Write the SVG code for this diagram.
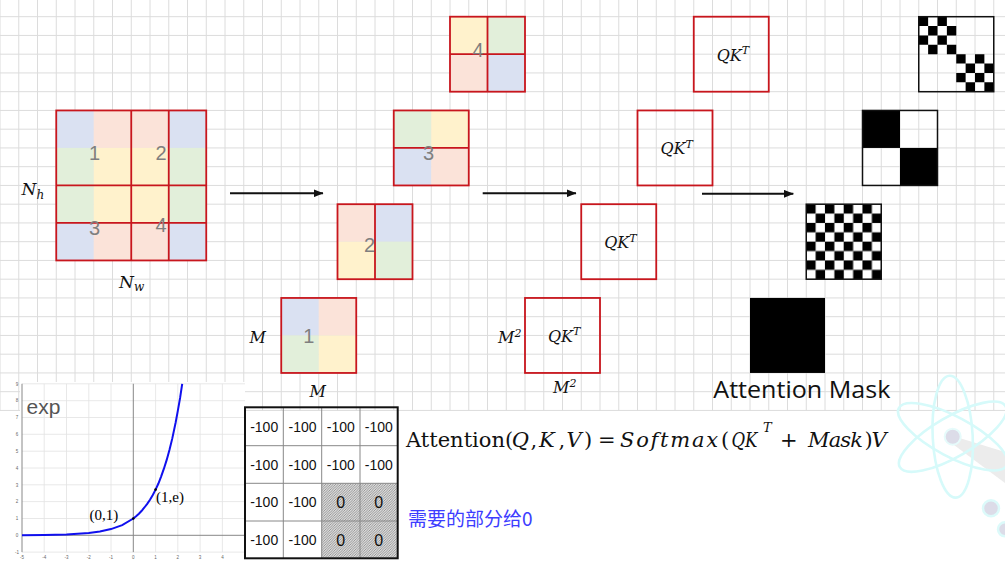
<svg xmlns="http://www.w3.org/2000/svg" width="1005" height="566" viewBox="0 0 1005 566">
<style>
.bg{stroke:#dcdcdc;stroke-width:1;fill:none}
.red{fill:none;stroke:#c8161d;stroke-width:1.8}
.num{font-family:"Liberation Sans",Arial,sans-serif;font-size:20px;fill:#7f7f7f;text-anchor:middle}
.math{font-family:"DejaVu Serif",serif;font-style:italic;fill:#111}
.up{font-family:"DejaVu Serif",serif;font-style:normal;fill:#111}
.mk{fill:none;stroke:#111;stroke-width:1.5}
.cB{fill:#dae1f2}.cP{fill:#fbe3d9}.cG{fill:#e2efda}.cY{fill:#fff2cc}
.tb{font-family:"Liberation Sans",Arial,sans-serif;font-size:14px;fill:#111;text-anchor:middle}
.tz{font-family:"Liberation Sans",Arial,sans-serif;font-size:16px;fill:#111;text-anchor:middle}
.tick{font-family:"Liberation Sans",Arial,sans-serif;font-size:4.5px;fill:#666;text-anchor:middle}
.arrow{stroke:#111;stroke-width:2;fill:none;marker-end:url(#arr)}
.atom{fill:none;stroke:#d6fafa;stroke-width:2.6}
</style>
<defs>
<marker id="arr" markerWidth="10" markerHeight="8" refX="9.5" refY="4" orient="auto" markerUnits="userSpaceOnUse"><path d="M0,0 L10,4 L0,8 z" fill="#111"/></marker>
<pattern id="chk" width="2" height="2" patternUnits="userSpaceOnUse"><rect x="0" y="0" width="1" height="1" fill="#000"/><rect x="1" y="1" width="1" height="1" fill="#000"/></pattern>
<pattern id="hatch" width="2.5" height="2.5" patternUnits="userSpaceOnUse"><rect width="2.5" height="2.5" fill="#dcdcdc"/><path d="M0,2.5 L2.5,0 M-1,1 L1,-1 M1.5,3.5 L3.5,1.5" stroke="#6a6a6a" stroke-width="0.6"/></pattern>
</defs>
<rect width="1005" height="566" fill="#fff"/>
<g id="background-grid">
<path class="bg" d="M0 0V411M18.75 0V411M37.5 0V411M56.25 0V411M75 0V411M93.75 0V411M112.5 0V411M131.25 0V411M150 0V411M168.75 0V411M187.5 0V411M206.25 0V411M225 0V411M243.75 0V411M262.5 0V411M281.25 0V411M300 0V411M318.75 0V411M337.5 0V411M356.25 0V411M375 0V411M393.75 0V411M412.5 0V411M431.25 0V411M450 0V411M468.75 0V411M487.5 0V411M506.25 0V411M525 0V411M543.75 0V411M562.5 0V411M581.25 0V411M600 0V411M618.75 0V411M637.5 0V411M656.25 0V411M675 0V411M693.75 0V411M712.5 0V411M731.25 0V411M750 0V411M768.75 0V411M787.5 0V411M806.25 0V411M825 0V411M843.75 0V411M862.5 0V411M881.25 0V411M900 0V411M918.75 0V411M937.5 0V411M956.25 0V411M975 0V411M993.75 0V411M0 16.7H1005M0 35.45H1005M0 54.2H1005M0 72.95H1005M0 91.7H1005M0 110.45H1005M0 129.2H1005M0 147.95H1005M0 166.7H1005M0 185.45H1005M0 204.2H1005M0 222.95H1005M0 241.7H1005M0 260.45H1005M0 279.2H1005M0 297.95H1005M0 316.7H1005M0 335.45H1005M0 354.2H1005M0 372.95H1005M0 391.7H1005M0 410.45H1005"/>
</g>
<g id="watermark">
<polygon points="953,436 1005,452 1005,483 950,442" fill="#ececec"/>
<ellipse class="atom" cx="952.7" cy="436.7" rx="61" ry="20" transform="rotate(87 952.7 436.7)"/>
<ellipse class="atom" cx="952.7" cy="436.7" rx="61" ry="20" transform="rotate(28 952.7 436.7)"/>
<ellipse class="atom" cx="952.7" cy="436.7" rx="61" ry="20" transform="rotate(-30 952.7 436.7)"/>
<circle cx="952.7" cy="436.7" r="8" fill="#dcdce8" stroke="#e6fbfb" stroke-width="2"/>
<circle cx="991" cy="508.3" r="8" fill="#dcdce8" stroke="#dcfafa" stroke-width="2.5"/>
<circle cx="1005" cy="529.3" r="7" fill="#dcdce8" stroke="#dcfafa" stroke-width="2.5"/>
</g>
<g id="big-grid">
<rect class="cB" x="56.25" y="110.45" width="37.5" height="37.5"/><rect class="cP" x="93.75" y="110.45" width="75" height="37.5"/><rect class="cB" x="168.75" y="110.45" width="37.5" height="37.5"/>
<rect class="cG" x="56.25" y="147.95" width="37.5" height="75"/><rect class="cY" x="93.75" y="147.95" width="75" height="75"/><rect class="cG" x="168.75" y="147.95" width="37.5" height="75"/>
<rect class="cB" x="56.25" y="222.95" width="37.5" height="37.5"/><rect class="cP" x="93.75" y="222.95" width="75" height="37.5"/><rect class="cB" x="168.75" y="222.95" width="37.5" height="37.5"/>
<rect class="red" x="56.25" y="110.45" width="150" height="150"/>
<path class="red" d="M131.25 110.45V260.45M168.75 110.45V260.45M56.25 185.45H206.25M56.25 222.95H206.25"/>
<text class="num" x="94.5" y="159.5">1</text><text class="num" x="161" y="159.5">2</text><text class="num" x="94.5" y="235">3</text><text class="num" x="161" y="231.5">4</text>
<text class="math" x="21.5" y="195" font-size="17">N<tspan font-size="12" dy="4">h</tspan></text>
<text class="math" x="119" y="288" font-size="17">N<tspan font-size="12" dy="3">w</tspan></text>
</g>
<g id="window-4">
<rect class="cY" x="450" y="16.7" width="37.5" height="37.5"/><rect class="cG" x="487.5" y="16.7" width="37.5" height="37.5"/><rect class="cP" x="450" y="54.2" width="37.5" height="37.5"/><rect class="cB" x="487.5" y="54.2" width="37.5" height="37.5"/>
<rect class="red" x="450" y="16.7" width="75" height="75"/><path class="red" d="M487.5 16.7V91.7M450 54.2H525"/>
<text class="num" x="478" y="57">4</text>
</g>
<g id="window-3">
<rect class="cG" x="393.75" y="110.45" width="37.5" height="37.5"/><rect class="cY" x="431.25" y="110.45" width="37.5" height="37.5"/><rect class="cB" x="393.75" y="147.95" width="37.5" height="37.5"/><rect class="cP" x="431.25" y="147.95" width="37.5" height="37.5"/>
<rect class="red" x="393.75" y="110.45" width="75" height="75"/><path class="red" d="M393.75 147.95H468.75"/>
<text class="num" x="428.5" y="159.5">3</text>
</g>
<g id="window-2">
<rect class="cP" x="337.5" y="204.2" width="37.5" height="37.5"/><rect class="cB" x="375" y="204.2" width="37.5" height="37.5"/><rect class="cY" x="337.5" y="241.7" width="37.5" height="37.5"/><rect class="cG" x="375" y="241.7" width="37.5" height="37.5"/>
<rect class="red" x="337.5" y="204.2" width="75" height="75"/><path class="red" d="M375 204.2V279.2"/>
<text class="num" x="369.5" y="252.3">2</text>
</g>
<g id="window-1">
<rect class="cB" x="281.25" y="297.95" width="37.5" height="37.5"/><rect class="cP" x="318.75" y="297.95" width="37.5" height="37.5"/><rect class="cG" x="281.25" y="335.45" width="37.5" height="37.5"/><rect class="cY" x="318.75" y="335.45" width="37.5" height="37.5"/>
<rect class="red" x="281.25" y="297.95" width="75" height="75"/>
<text class="num" x="308.8" y="343.3">1</text>
<text class="math" x="249.5" y="343" font-size="16">M</text>
<text class="math" x="309.5" y="396.5" font-size="16">M</text>
</g>
<g id="qk-4">
<rect class="red" x="693.75" y="16.7" width="75" height="75"/>
<text class="math" x="716.7" y="60.5" font-size="16">QK<tspan font-size="11" dy="-6.5">T</tspan></text>
</g>
<g id="qk-3">
<rect class="red" x="637.5" y="110.45" width="75" height="75"/>
<text class="math" x="660.5" y="154.3" font-size="16">QK<tspan font-size="11" dy="-6.5">T</tspan></text>
</g>
<g id="qk-2">
<rect class="red" x="581.25" y="204.2" width="75" height="75"/>
<text class="math" x="604.2" y="248" font-size="16">QK<tspan font-size="11" dy="-6.5">T</tspan></text>
</g>
<g id="qk-1">
<rect class="red" x="525" y="297.95" width="75" height="75"/>
<text class="math" x="548" y="341.7" font-size="16">QK<tspan font-size="11" dy="-6.5">T</tspan></text>
<text class="math" x="498" y="343" font-size="16">M<tspan font-size="11" dy="-6">2</tspan></text>
<text class="math" x="553" y="393" font-size="16">M<tspan font-size="11" dy="-6">2</tspan></text>
</g>
<g id="mask-4">
<g transform="translate(918.75 16.7) scale(9.375)"><path fill="#000" d="M0 0h1v1h-1zM2 0h1v1h-1zM1 1h1v1h-1zM3 1h1v1h-1zM0 2h1v1h-1zM2 2h1v1h-1zM1 3h1v1h-1zM3 3h1v1h-1zM4 4h1v1h-1zM6 4h1v1h-1zM5 5h1v1h-1zM7 5h1v1h-1zM4 6h1v1h-1zM6 6h1v1h-1zM5 7h1v1h-1zM7 7h1v1h-1z"/></g>
<rect class="mk" x="918.75" y="16.7" width="75" height="75"/>
</g>
<g id="mask-3">
<rect x="862.5" y="110.45" width="37.5" height="37.5" fill="#000"/><rect x="900" y="147.95" width="37.5" height="37.5" fill="#000"/>
<rect class="mk" x="862.5" y="110.45" width="75" height="75"/>
</g>
<g id="mask-2">
<g transform="translate(806.25 204.2) scale(9.375)"><rect width="8" height="8" fill="url(#chk)"/></g>
<rect class="mk" x="806.25" y="204.2" width="75" height="75"/>
</g>
<g id="mask-1">
<rect x="750" y="297.95" width="75" height="75" fill="#000"/>
<text x="713.3" y="398.3" font-family="'Open Sans','Noto Sans',sans-serif" font-size="24" fill="#111" textLength="177" lengthAdjust="spacingAndGlyphs">Attention Mask</text>
</g>
<g id="connectors">
<line class="arrow" x1="230" y1="193.3" x2="323" y2="193.3"/>
<line class="arrow" x1="482.7" y1="193.3" x2="576" y2="193.3"/>
<line class="arrow" x1="702" y1="193.8" x2="793.3" y2="193.8"/>
</g>
<g id="exp-plot">
<rect x="20" y="382" width="225" height="184" fill="#fff"/>
<path stroke="#e2e2e2" stroke-width="0.8" fill="none" d="M44.2 383.8V552.1M66.5 383.8V552.1M88.8 383.8V552.1M111 383.8V552.1M155.6 383.8V552.1M177.8 383.8V552.1M200.1 383.8V552.1M222.4 383.8V552.1M22 383.8H245M22 400.7H245M22 417.5H245M22 434.3H245M22 451.2H245M22 468H245M22 484.8H245M22 501.6H245M22 518.5H245M22 552.1H245"/>
<path stroke="#888" stroke-width="1" fill="none" d="M133.3 383.8V552.1M22 535.3H245M22 383.8V552.1"/>
<g class="tick">
<text x="22" y="559">-5</text><text x="44.2" y="559">-4</text><text x="66.5" y="559">-3</text><text x="88.8" y="559">-2</text><text x="111" y="559">-1</text><text x="133.3" y="559">0</text><text x="155.6" y="559">1</text><text x="177.8" y="559">2</text><text x="200.1" y="559">3</text><text x="222.4" y="559">4</text>
<text x="17" y="385.5">9</text><text x="17" y="402.4">8</text><text x="17" y="419.2">7</text><text x="17" y="436">6</text><text x="17" y="452.9">5</text><text x="17" y="469.7">4</text><text x="17" y="486.5">3</text><text x="17" y="503.3">2</text><text x="17" y="520.2">1</text><text x="17" y="537">0</text><text x="17" y="553.8">-1</text>
</g>
<polyline fill="none" stroke="#1010ee" stroke-width="2" points="22,535.2 44.2,535 66.5,534.5 88.8,533 99.9,531.5 111,529.1 122.2,525.1 133.3,518.5 136.1,516.2 138.9,513.7 141.7,510.8 144.4,507.5 147.2,503.9 150,499.7 152.8,494.9 155.6,489.6 158.4,483.5 161.1,476.6 163.9,468.7 166.7,459.9 169.5,449.8 172.3,438.4 175.6,422.8 177.8,410.9 180.1,397.9 182.2,383.8"/>
<circle cx="133.3" cy="518.5" r="1.3" fill="#000"/><circle cx="155.6" cy="489.6" r="1.3" fill="#000"/>
<text x="26.5" y="413.5" font-family="'Liberation Sans',Arial,sans-serif" font-size="21" fill="#555">exp</text>
<text x="89.5" y="519.5" font-family="'Liberation Serif','Times New Roman',serif" font-size="15" fill="#000">(0,1)</text>
<text x="156" y="502" font-family="'Liberation Serif','Times New Roman',serif" font-size="15" fill="#000">(1,e)</text>
</g>
<g id="mask-table">
<rect x="321.7" y="483.3" width="76" height="75" fill="url(#hatch)"/>
<path stroke="#888" stroke-width="1" fill="none" d="M283.3 407.3V558.3M321.7 407.3V558.3M360 407.3V558.3M245 445.7H397.7M245 483.3H397.7M245 521H397.7"/>
<rect x="245" y="407.3" width="152.7" height="151" fill="none" stroke="#111" stroke-width="2"/>
<text class="tb" x="264.2" y="431.5">-100</text><text class="tb" x="302.5" y="431.5">-100</text><text class="tb" x="340.8" y="431.5">-100</text><text class="tb" x="378.8" y="431.5">-100</text>
<text class="tb" x="264.2" y="469.5">-100</text><text class="tb" x="302.5" y="469.5">-100</text><text class="tb" x="340.8" y="469.5">-100</text><text class="tb" x="378.8" y="469.5">-100</text>
<text class="tb" x="264.2" y="507">-100</text><text class="tb" x="302.5" y="507">-100</text><text class="tz" x="340.8" y="508">0</text><text class="tz" x="378.8" y="508">0</text>
<text class="tb" x="264.2" y="545">-100</text><text class="tb" x="302.5" y="545">-100</text><text class="tz" x="340.8" y="546">0</text><text class="tz" x="378.8" y="546">0</text>
</g>
<g id="formula" font-size="21">
<text y="447"><tspan class="up" x="406">Attention(</tspan><tspan class="math" x="511.7">Q</tspan><tspan class="up" x="530.5">,</tspan><tspan class="math" x="539">K</tspan><tspan class="up" x="558.5">,</tspan><tspan class="math" x="566.5">V</tspan><tspan class="up" x="584">)</tspan><tspan class="up" x="598">=</tspan></text>
<text class="math" x="620" y="447" textLength="98" lengthAdjust="spacing">Softmax</text>
<text class="up" x="721" y="447">(</text>
<text class="math" transform="translate(731.5 447) scale(0.79 1)" x="0" y="0">QK</text>
<text class="math" x="763" y="432" font-size="13">T</text>
<text class="up" x="780" y="447">+</text>
<text class="math" x="808" y="447" textLength="55" lengthAdjust="spacing">Mask</text>
<text y="447"><tspan class="up" x="864.5">)</tspan><tspan class="math" x="871.5">V</tspan></text>
<text x="408" y="526" font-family="'Noto Sans CJK SC',sans-serif" font-size="19" fill="#3d3dff">需要的部分给0</text>
</g>
</svg>
